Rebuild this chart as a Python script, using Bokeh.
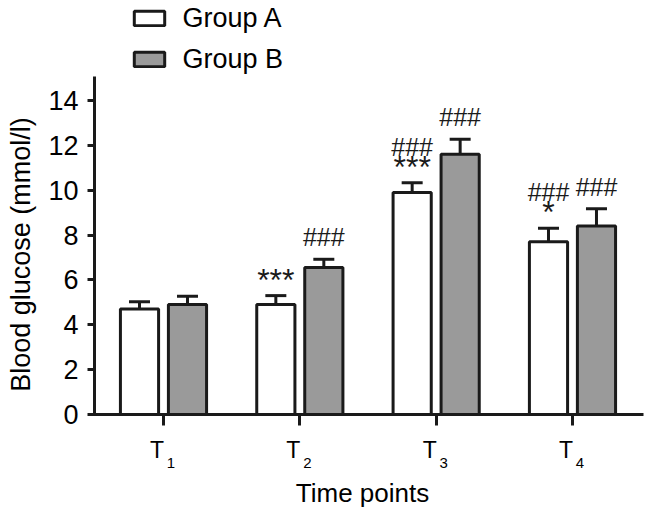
import numpy as np
from bokeh.plotting import figure
from bokeh.models import (ColumnDataSource, Range1d, FixedTicker, Whisker, TeeHead,
                          Label, Legend, LegendItem)
from bokeh.embed import file_html
from bokeh.resources import INLINE
from bokeh.core.properties import value

# ---------------- data ----------------
categories = ["T1", "T2", "T3", "T4"]
series_names = ["Group A", "Group B"]
group_a = [4.7, 4.9, 9.9, 7.7]
group_a_err = [0.33, 0.40, 0.43, 0.60]
group_b = [4.9, 6.55, 11.6, 8.4]
group_b_err = [0.37, 0.37, 0.67, 0.77]
# significance marks, listed from the bar upwards
marks_a = [[], ["***"], ["***", "###"], ["*", "###"]]
marks_b = [[], ["###"], ["###"], ["###"]]
y_ticks = [0, 2, 4, 6, 8, 10, 12, 14]
y_top = 15.07
x_title = "Time points"
y_title = "Blood glucose (mmol/l)"

# ---------------- layout / style ----------------
W, H = 645, 512
PX_PER_X = 136.33      # pixels per category step
PX_X1 = 163            # pixel of first category
PX_PER_Y = 22.43       # pixels per y unit
PX_Y0 = 414            # pixel row of y = 0
FONT = "Liberation Sans"
INK = "#1a1a1a"
fills = ["#ffffff", "#9a9a9a"]
offsets = [-0.176, 0.176]
bar_w = 0.28

xs = np.arange(1, len(categories) + 1)

def px_to_x(px):
    return 1 + (px - PX_X1) / PX_PER_X

def py_to_y(py):
    return (PX_Y0 - py) / PX_PER_Y

p = figure(width=W, height=H, output_backend="svg", toolbar_location=None,
           x_range=Range1d(px_to_x(0), px_to_x(W)), y_range=Range1d(py_to_y(H), py_to_y(0)),
           min_border=0, min_border_left=0, min_border_right=0,
           min_border_top=0, min_border_bottom=0)
p.xgrid.visible = False
p.ygrid.visible = False
p.outline_line_color = None
p.background_fill_color = "white"
p.border_fill_color = "white"

renderers = []
mark_x, mark_y, mark_t, mark_fs, mark_yo = [], [], [], [], []
for vals, errs, marks, fill, off in zip([group_a, group_b], [group_a_err, group_b_err],
                                        [marks_a, marks_b], fills, offsets):
    vals = np.array(vals)
    errs = np.array(errs)
    src = ColumnDataSource(dict(x=xs + off, top=vals, upper=vals + errs))
    r = p.vbar(x="x", top="top", bottom=0, width=bar_w, source=src,
               fill_color=fill, line_color=INK, line_width=3)
    renderers.append(r)
    w = Whisker(base="x", lower="top", upper="upper", source=src, dimension="height",
                line_color=INK, line_width=3,
                upper_head=TeeHead(size=21, line_color=INK, line_width=3), lower_head=None)
    p.add_layout(w)
    for i, lines in enumerate(marks):
        for k, t in enumerate(lines):
            is_hash = "#" in t
            if k == 0:
                rise = 22 if is_hash else 16
            else:
                rise = 36
            fs = 25 if is_hash else 32
            mark_x.append(xs[i] + off)
            mark_y.append(vals[i] + errs[i])
            mark_t.append(t)
            mark_fs.append(f"{fs}px")
            mark_yo.append(-rise)

msrc = ColumnDataSource(dict(x=mark_x, y=mark_y, text=mark_t, fs=mark_fs, yo=mark_yo))
p.text(x="x", y="y", text="text", source=msrc, text_font=value(FONT), text_font_size="fs",
       y_offset="yo", text_align="center", text_baseline="middle", text_color=INK)

# axes (placed at fixed data locations, limited by bounds)
p.yaxis.fixed_location = px_to_x(94)
p.yaxis.bounds = (0, y_top)
p.yaxis.ticker = FixedTicker(ticks=y_ticks)
p.yaxis.major_label_text_font = FONT
p.yaxis.major_label_text_font_size = "27px"
p.yaxis.major_label_text_color = "black"
p.yaxis.major_label_standoff = 9
p.yaxis.major_tick_out = 7
p.yaxis.major_tick_in = 0
p.yaxis.minor_tick_line_color = None
p.yaxis.axis_line_width = 3
p.yaxis.major_tick_line_width = 3
p.yaxis.axis_line_color = INK
p.yaxis.major_tick_line_color = INK

p.xaxis.fixed_location = 0
p.xaxis.bounds = (px_to_x(88), px_to_x(643))
p.xaxis.ticker = FixedTicker(ticks=list(xs))
p.xaxis.major_label_overrides = {int(x): "" for x in xs}
p.xaxis.major_tick_out = 11
p.xaxis.major_tick_in = 0
p.xaxis.minor_tick_line_color = None
p.xaxis.axis_line_width = 3
p.xaxis.major_tick_line_width = 3
p.xaxis.axis_line_color = INK
p.xaxis.major_tick_line_color = INK

# category labels: T with subscript
for xi, c in zip(xs, categories):
    p.add_layout(Label(x=xi, y=H - 449, x_units="data", y_units="screen", x_offset=-6.5,
                       text=c[0], text_align="center", text_baseline="alphabetic",
                       text_font=FONT, text_font_size="23px", text_color="black"))
    p.add_layout(Label(x=xi, y=H - 462, x_units="data", y_units="screen", x_offset=7.5,
                       text=c[1:], text_align="center", text_baseline="alphabetic",
                       text_font=FONT, text_font_size="15px", text_color="black"))

p.add_layout(Label(x=362, y=H - 492, x_units="screen", y_units="screen", text=x_title,
                   text_align="center", text_baseline="alphabetic",
                   text_font=FONT, text_font_size="26px", text_color="black"))
p.add_layout(Label(x=20, y=H - 254, x_units="screen", y_units="screen", text=y_title,
                   angle=np.pi / 2, text_align="center", text_baseline="middle",
                   text_font=FONT, text_font_size="27px", text_color="black"))

legend = Legend(items=[LegendItem(label=n, renderers=[r]) for n, r in zip(series_names, renderers)],
                location=(129.5, H - 11.5 - 69 + 6), orientation="vertical",
                glyph_width=38, glyph_height=18, label_height=17,
                label_text_font=FONT, label_text_font_size="27px", label_text_color="black",
                label_standoff=15, spacing=10, padding=0, margin=0,
                border_line_alpha=0, background_fill_alpha=0)
p.add_layout(legend)

open("out.html", "w").write(file_html(p, INLINE))
